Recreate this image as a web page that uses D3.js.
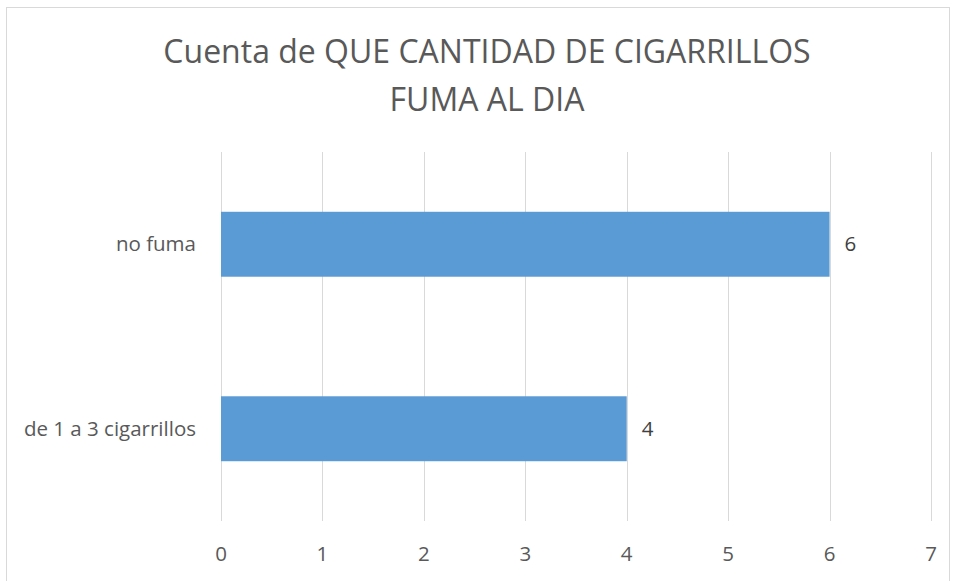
<!DOCTYPE html>
<html><head><meta charset="utf-8">
<script src="https://cdn.jsdelivr.net/npm/d3@7/dist/d3.min.js"></script>
<style>body{margin:0;background:#fff;} text{font-family:"Open Sans","Noto Sans",sans-serif;}</style>
</head><body>
<svg id="c" width="955" height="581"></svg>
<script>
const categories = ["no fuma", "de 1 a 3 cigarrillos"];
const counts = [6, 4];
const xTicks = [0, 1, 2, 3, 4, 5, 6, 7];
const titleLines = ["Cuenta de QUE CANTIDAD DE CIGARRILLOS", "FUMA AL DIA"];

const svg = d3.select("#c");
svg.append("rect").attr("x", 6.5).attr("y", 7.5).attr("width", 943).attr("height", 580)
  .attr("fill", "#fff").attr("stroke", "#D9D9D9").attr("stroke-width", 1);

const pLeft = 221, pRight = 931, pTop = 152, pBottom = 521;
const x = d3.scaleLinear().domain([0, 7]).range([pLeft, pRight]);
const y = d3.scaleBand().domain(categories).range([pTop, pBottom]).paddingInner(0.648).paddingOuter(0.324);

svg.append("g").selectAll("text").data(titleLines).join("text")
  .attr("x", 487).attr("y", (d, i) => 52 + i * 48).attr("dy", "0.35em")
  .attr("text-anchor", "middle").attr("font-size", 32).attr("fill", "#595959").text(d => d);

svg.append("g").selectAll("line").data(xTicks).join("line")
  .attr("x1", d => Math.round(x(d)) + 0.5).attr("x2", d => Math.round(x(d)) + 0.5)
  .attr("y1", pTop).attr("y2", pBottom).attr("stroke", "#D9D9D9").attr("stroke-width", 1);

svg.append("g").selectAll("rect").data(categories).join("rect")
  .attr("x", x(0)).attr("y", d => y(d)).attr("width", (d, i) => x(counts[i]) - x(0))
  .attr("height", y.bandwidth()).attr("fill", "#5B9BD5");

svg.append("g").selectAll("text").data(categories).join("text")
  .attr("x", (d, i) => x(counts[i]) + 15).attr("y", d => y(d) + y.bandwidth() / 2)
  .attr("dy", "0.35em").attr("font-size", 20.5).attr("fill", "#404040").text((d, i) => counts[i]);

svg.append("g").selectAll("text").data(categories).join("text")
  .attr("x", 196).attr("y", d => y(d) + y.bandwidth() / 2)
  .attr("dy", "0.35em").attr("text-anchor", "end").attr("font-size", 20.5).attr("fill", "#595959").text(d => d);

svg.append("g").selectAll("text").data(xTicks).join("text")
  .attr("x", d => x(d)).attr("y", 554).attr("dy", "0.35em")
  .attr("text-anchor", "middle").attr("font-size", 20.5).attr("fill", "#595959").text(d => d);
</script>
</body></html>
